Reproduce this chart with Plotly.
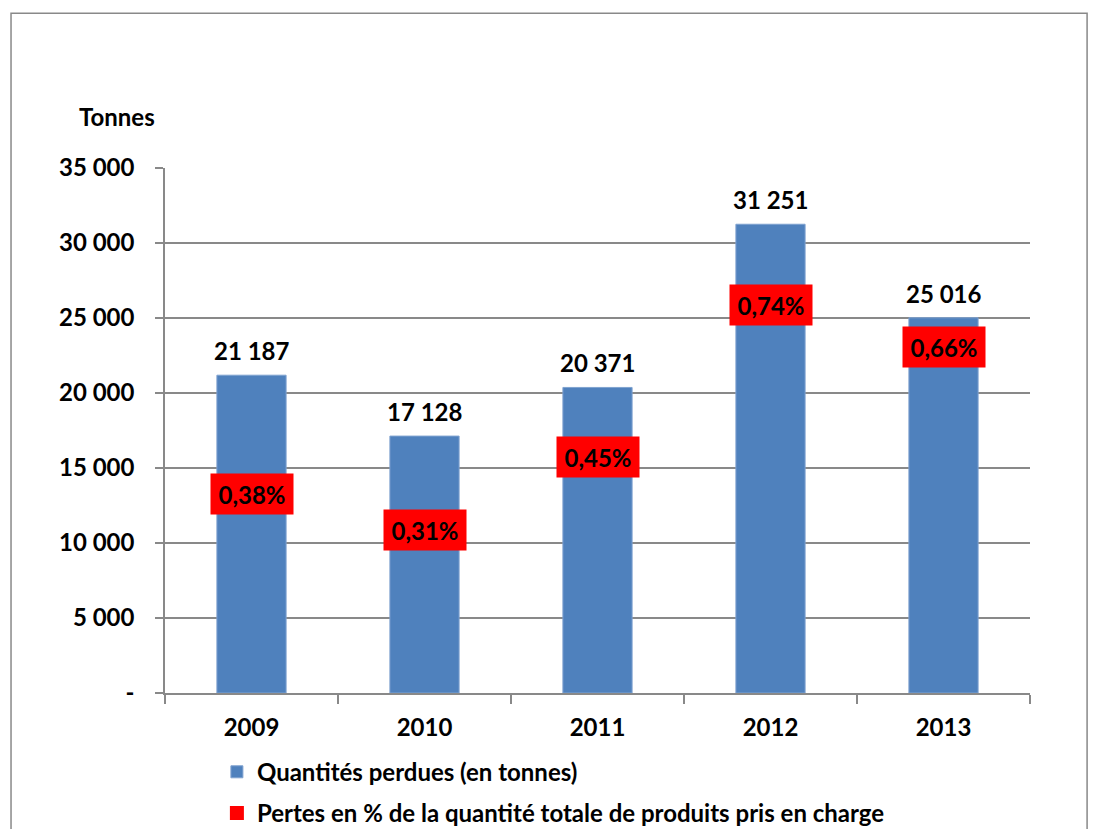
import plotly.graph_objects as go

years = ["2009", "2010", "2011", "2012", "2013"]
tonnes = [21187, 17128, 20371, 31251, 25016]
pertes_pct = [0.38, 0.31, 0.45, 0.74, 0.66]
y_ticks = [0, 5000, 10000, 15000, 20000, 25000, 30000, 35000]

BLUE = "#4F81BD"
RED = "#FF0000"
GRID = "#898989"
FONT = "Lato"
FS = 24


def fmt_thousands(v):
    return f"{v:,}".replace(",", " ")


tick_text = ["-" if v == 0 else fmt_thousands(v) for v in y_ticks]
pct_text = [f"{p:.2f}%".replace(".", ",") for p in pertes_pct]
bold = dict(family=FONT, size=FS, color="black", weight="bold")

fig = go.Figure()
fig.add_trace(go.Bar(
    x=years, y=tonnes, name="Quantités perdues (en tonnes)",
    marker=dict(color=BLUE, line=dict(color="#7FA2D0", width=1)),
    legendgroup="a",
))
fig.add_trace(go.Scatter(
    x=years, y=pertes_pct, yaxis="y2", mode="markers",
    marker=dict(symbol="square", color=RED, size=14),
    name="Pertes en % de la quantité totale de produits pris en charge",
    legendgroup="b",
))

annotations = []
for i, v in enumerate(tonnes):
    annotations.append(dict(
        x=i, y=v, xref="x", yref="y", text=fmt_thousands(v),
        showarrow=False, yanchor="bottom", yshift=8, font=bold,
    ))
for i, (p, t) in enumerate(zip(pertes_pct, pct_text)):
    annotations.append(dict(
        x=i, y=p, xref="x", yref="y2", text=t,
        showarrow=False, bgcolor=RED, borderpad=1, width=80, height=38,
        font=bold,
    ))
annotations.append(dict(
    x=-0.0555, y=1.099, xref="paper", yref="paper", text="Tonnes",
    showarrow=False, xanchor="center", yanchor="middle", font=bold,
))

fig.update_layout(
    width=1093, height=829,
    margin=dict(l=165, r=63, t=168, b=136, autoexpand=False),
    paper_bgcolor="white", plot_bgcolor="white",
    font=bold,
    bargap=0.6,
    showlegend=True,
    legend=dict(
        x=0.06, y=-0.108, xanchor="left", yanchor="top",
        orientation="v", tracegroupgap=7, font=bold, itemwidth=30,
    ),
    xaxis=dict(
        type="category", range=[-0.5, 4.5], showline=True, linecolor=GRID, linewidth=1.5,
        ticks="outside", tickson="boundaries", ticklen=9, tickcolor=GRID,
        tickwidth=1.5, showgrid=False, ticklabelstandoff=12, tickangle=0,
        tickfont=bold,
    ),
    yaxis=dict(
        range=[0, 35000], tickvals=y_ticks, ticktext=tick_text,
        showline=True, linecolor=GRID, linewidth=1.5,
        ticks="outside", ticklen=8, tickcolor=GRID, tickwidth=1.5,
        showgrid=True, gridcolor=GRID, gridwidth=1.5,
        zeroline=False, ticklabelstandoff=16, tickfont=bold,
    ),
    yaxis2=dict(
        range=[0, 1], overlaying="y", side="right", visible=False,
        showgrid=False,
    ),
    annotations=annotations,
    shapes=[dict(
        type="rect", xref="paper", yref="paper",
        x0=-0.178, x1=1.066, y0=-0.3, y1=1.295,
        line=dict(color="#898989", width=1.5), fillcolor="rgba(0,0,0,0)",
        layer="below",
    )],
)

fig.write_html("out.html")
